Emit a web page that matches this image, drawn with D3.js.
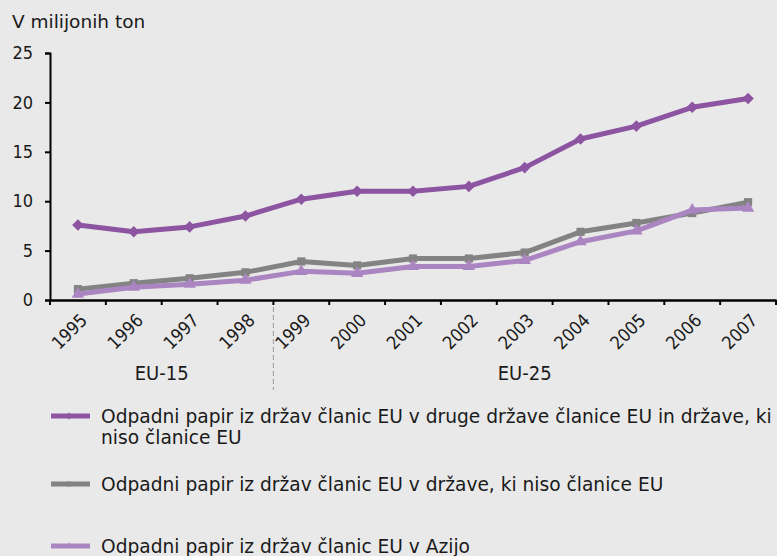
<!DOCTYPE html>
<html><head><meta charset="utf-8">
<script src="https://cdn.jsdelivr.net/npm/d3@7"></script>
<style>
html,body{margin:0;padding:0;background:#e9e9e9;}
svg{display:block;font-family:"DejaVu Sans Condensed","DejaVu Sans",sans-serif;}
</style></head><body>
<svg id="c" width="777" height="556"></svg>
<script>
const years = ["1995","1996","1997","1998","1999","2000","2001","2002","2003","2004","2005","2006","2007"];
const seriesNames = [
  "Odpadni papir iz držav članic EU v druge države članice EU in države, ki|niso članice EU",
  "Odpadni papir iz držav članic EU v države, ki niso članice EU",
  "Odpadni papir iz držav članic EU v Azijo"
];
const intraExtra = [7.6, 6.9, 7.4, 8.5, 10.2, 11.0, 11.0, 11.5, 13.4, 16.3, 17.6, 19.5, 20.4];
const extraEU    = [1.1, 1.7, 2.2, 2.8, 3.9, 3.5, 4.2, 4.2, 4.8, 6.9, 7.8, 8.8, 9.9];
const asia       = [0.6, 1.3, 1.6, 2.0, 2.9, 2.7, 3.4, 3.4, 4.0, 5.9, 7.0, 9.1, 9.3];
const yTicks = [0, 5, 10, 15, 20, 25];
const groups = [{label:"EU-15", from:"1995", to:"1998"},{label:"EU-25", from:"1999", to:"2007"}];

const colors = ["#8c54a1", "#838383", "#ab85c2"];
const symbols = [d3.symbolDiamond2, d3.symbolSquare2, d3.symbolTriangle2];
const data = [intraExtra, extraEU, asia];
const FONT = "'DejaVu Sans Condensed', 'DejaVu Sans', sans-serif";

const svg = d3.select("#c");
const L = 50, R = 776, T = 53, B = 300;
const x = d3.scaleBand().domain(years).range([L, R]);
const y = d3.scaleLinear().domain([0, 25]).range([B, T]);

svg.append("text").attr("x", 12).attr("y", 28).attr("font-size", 18.5)
  .attr("font-family", "'DejaVu Sans', sans-serif").attr("fill", "#1a1a1a").text("V milijonih ton");

// y axis
const ya = svg.append("g").attr("transform", `translate(${L},0)`)
  .call(d3.axisLeft(y).tickValues(yTicks).tickSize(5).tickPadding(12));
ya.select(".domain").attr("stroke", "#000").attr("stroke-width", 2);
ya.selectAll(".tick line").attr("stroke", "#000").attr("stroke-width", 2);
ya.selectAll(".tick text").attr("font-size", 18).attr("fill", "#1a1a1a").attr("font-family", FONT);

// x axis
const xa = svg.append("g").attr("transform", `translate(0,${B})`)
  .call(d3.axisBottom(x).tickSize(0).tickFormat(""));
xa.select(".domain").attr("stroke", "#000").attr("stroke-width", 2.5);
const edges = years.map(yv => x(yv)).concat([x(years[years.length-1]) + x.bandwidth()]);
xa.selectAll(".edge").data(edges).enter().append("line")
  .attr("x1", d => d).attr("x2", d => d).attr("y1", 0).attr("y2", 5)
  .attr("stroke", "#000").attr("stroke-width", 2);
xa.selectAll(".lbl").data(years).enter().append("text")
  .attr("transform", d => `translate(${x(d) + x.bandwidth()/2 + 6},${17}) rotate(-45)`)
  .attr("text-anchor", "end").attr("dy", "0.35em")
  .attr("font-size", 18).attr("fill", "#1a1a1a").attr("font-family", FONT).text(d => d);

// group separator & labels
const sepX = x("1999");
svg.append("line").attr("x1", sepX).attr("x2", sepX).attr("y1", 307).attr("y2", 390)
  .attr("stroke", "#9a9a9a").attr("stroke-width", 1).attr("stroke-dasharray", "5,3");
groups.forEach(g => {
  const cx = (x(g.from) + x(g.to) + x.bandwidth()) / 2;
  svg.append("text").attr("x", cx).attr("y", 373).attr("dy", "0.35em").attr("text-anchor", "middle")
    .attr("font-size", 20).attr("fill", "#1a1a1a").text(g.label);
});

// lines
const line = d3.line().x((d, i) => x(years[i]) + x.bandwidth()/2).y(d => y(d));
[1, 2, 0].forEach(k => {
  svg.append("path").datum(data[k]).attr("d", line).attr("fill", "none")
    .attr("stroke", colors[k]).attr("stroke-width", 5).attr("stroke-linejoin", "round");
  svg.selectAll(".m" + k).data(data[k]).enter().append("path")
    .attr("transform", (d, i) => `translate(${x(years[i]) + x.bandwidth()/2},${y(d)})`)
    .attr("d", d3.symbol().type(symbols[k]).size(k === 2 ? 110 : 85))
    .attr("fill", colors[k]);
});

// legend
const legY = [416, 484, 546];
const legTexts = [];
seriesNames.forEach((name, k) => {
  const g = svg.append("g");
  g.append("line").attr("x1", 51).attr("x2", 90).attr("y1", legY[k]).attr("y2", legY[k])
    .attr("stroke", colors[k]).attr("stroke-width", 5);
  g.append("path").attr("transform", `translate(69,${legY[k]})`)
    .attr("d", d3.symbol().type(symbols[k]).size(30)).attr("fill", colors[k]);
  name.split("|").forEach((p, j) => {
    const t = g.append("text").attr("x", 0).attr("y", 0).attr("dy", "0.35em")
      .attr("font-size", 19).attr("fill", "#1a1a1a").attr("font-family", FONT)
      .attr("data-y", legY[k] + j * 21)
      .text(p);
    legTexts.push(t);
  });
});
const w0 = legTexts[0].node().getComputedTextLength();
const sx = 671 / w0;
legTexts.forEach(t => t.attr("transform", `translate(101,${t.attr("data-y")}) scale(${sx},1)`));
</script>
</body></html>
